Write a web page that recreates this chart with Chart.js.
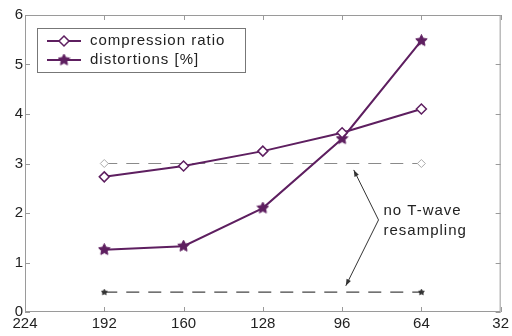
<!DOCTYPE html>
<html>
<head>
<meta charset="utf-8">
<script src="https://cdn.jsdelivr.net/npm/chart.js@4"></script>
<style>
  html, body { margin: 0; padding: 0; background: #fff; }
  #wrap { width: 512px; height: 336px; }
</style>
</head>
<body>
<div id="wrap"><canvas id="c"></canvas></div>
<script>
// -------------------------
// Data
// -------------------------
const samplingRates = [192, 160, 128, 96, 64];
const compressionRatio = [2.73, 2.95, 3.25, 3.62, 4.1];
const distortions = [1.26, 1.33, 2.1, 3.5, 5.48];
const refRates = [192, 64];
const refCompression = [3.0, 3.0];
const refDistortions = [0.4, 0.4];
const xTicks = [224, 192, 160, 128, 96, 64, 32];
const yTicks = [0, 1, 2, 3, 4, 5, 6];

const purple = '#5e1f60';
const axisGray = '#9a9a9a';
const fontFam = '"Liberation Sans", Arial, sans-serif';

// pentagram marker
function starImage(size, color) {
    const cv = document.createElement('canvas');
    cv.width = size; cv.height = size;
    const g = cv.getContext('2d');
    const c = size / 2, R = size / 2 - 0.5, r = R * 0.5;
    g.beginPath();
    for (let i = 0; i < 10; i++) {
        const a = -Math.PI / 2 + i * Math.PI / 5;
        const rad = i % 2 ? r : R;
        g.lineTo(c + rad * Math.cos(a), c + rad * Math.sin(a));
    }
    g.closePath();
    g.fillStyle = color;
    g.fill();
    g.strokeStyle = color;
    g.lineWidth = 1;
    g.stroke();
    return cv;
}
const bigStar = starImage(13, purple);
const smallStar = starImage(7, '#333');

const pts = (xs, ys) => xs.map((x, i) => ({ x: x, y: ys[i] }));

// -------------------------
// Plugins
// -------------------------
const frameTicks = {
    id: 'frameTicks',
    afterDraw(chart) {
        const { ctx, chartArea: a, scales } = chart;
        ctx.save();
        ctx.strokeStyle = axisGray;
        ctx.lineWidth = 1;
        ctx.strokeRect(a.left + 0.5, a.top + 0.5, a.right - a.left - 1, a.bottom - a.top - 1);
        ctx.beginPath();
        xTicks.forEach(v => {
            const px = Math.round(scales.x.getPixelForValue(v)) + 0.5;
            ctx.moveTo(px, a.bottom); ctx.lineTo(px, a.bottom - 5);
            ctx.moveTo(px, a.top); ctx.lineTo(px, a.top + 5);
        });
        yTicks.forEach(v => {
            const py = Math.round(scales.y.getPixelForValue(v)) + 0.5;
            ctx.moveTo(a.left, py); ctx.lineTo(a.left + 5, py);
            ctx.moveTo(a.right, py); ctx.lineTo(a.right - 5, py);
        });
        ctx.stroke();
        ctx.restore();
    }
};

const legendBox = {
    id: 'legendBox',
    afterDraw(chart) {
        const { ctx } = chart;
        const x0 = 37, y0 = 28, w = 208, h = 44;
        ctx.save();
        ctx.fillStyle = '#fff';
        ctx.fillRect(x0, y0, w, h);
        ctx.strokeStyle = '#777';
        ctx.lineWidth = 1;
        ctx.strokeRect(x0 + 0.5, y0 + 0.5, w, h);
        ctx.font = '15px ' + fontFam;
        ctx.letterSpacing = '1px';
        ctx.textBaseline = 'middle';
        [0, 1].forEach(i => {
            const ds = chart.data.datasets[i];
            const y = y0 + 13 + i * 19;
            ctx.strokeStyle = purple;
            ctx.lineWidth = 2;
            ctx.beginPath();
            ctx.moveTo(x0 + 10, y); ctx.lineTo(x0 + 44, y);
            ctx.stroke();
            if (i === 0) {
                ctx.fillStyle = '#fff';
                ctx.lineWidth = 1.5;
                ctx.beginPath();
                ctx.moveTo(x0 + 27, y - 5); ctx.lineTo(x0 + 32, y);
                ctx.lineTo(x0 + 27, y + 5); ctx.lineTo(x0 + 22, y);
                ctx.closePath();
                ctx.fill(); ctx.stroke();
            } else {
                ctx.drawImage(bigStar, x0 + 27 - 6.5, y - 6.5);
            }
            ctx.fillStyle = '#222';
            ctx.fillText(ds.label, x0 + 53, y);
        });
        ctx.restore();
    }
};

const noteArrows = {
    id: 'noteArrows',
    afterDraw(chart) {
        const { ctx, scales } = chart;
        const P = (x, y) => [scales.x.getPixelForValue(x), scales.y.getPixelForValue(y)];
        const bend = P(81.3, 1.86);
        const tips = [P(91.3, 2.87), P(94.5, 0.53)];
        ctx.save();
        ctx.strokeStyle = '#333';
        ctx.fillStyle = '#333';
        ctx.lineWidth = 1;
        tips.forEach(t => {
            ctx.beginPath();
            ctx.moveTo(bend[0], bend[1]); ctx.lineTo(t[0], t[1]);
            ctx.stroke();
            const ang = Math.atan2(t[1] - bend[1], t[0] - bend[0]);
            ctx.beginPath();
            ctx.moveTo(t[0], t[1]);
            ctx.lineTo(t[0] - 7 * Math.cos(ang - 0.35), t[1] - 7 * Math.sin(ang - 0.35));
            ctx.lineTo(t[0] - 7 * Math.cos(ang + 0.35), t[1] - 7 * Math.sin(ang + 0.35));
            ctx.closePath();
            ctx.fill();
        });
        ctx.font = '15px ' + fontFam;
        ctx.letterSpacing = '1px';
        ctx.textBaseline = 'middle';
        ctx.fillStyle = '#222';
        const t1 = P(79.3, 2.05), t2 = P(79.3, 1.64);
        ctx.fillText('no T-wave', t1[0], t1[1]);
        ctx.fillText('resampling', t2[0], t2[1]);
        ctx.restore();
    }
};

// -------------------------
// Chart
// -------------------------
new Chart(document.getElementById('c'), {
    type: 'line',
    data: {
        datasets: [
            {
                label: 'compression ratio',
                data: pts(samplingRates, compressionRatio),
                borderColor: purple,
                borderWidth: 2,
                pointStyle: 'rectRot',
                pointRadius: 5,
                pointBorderWidth: 1.5,
                pointBackgroundColor: '#fff',
                pointBorderColor: purple
            },
            {
                label: 'distortions [%]',
                data: pts(samplingRates, distortions),
                borderColor: purple,
                borderWidth: 2,
                pointStyle: bigStar
            },
            {
                label: 'ref cr',
                data: pts(refRates, refCompression),
                borderColor: '#8a8a8a',
                borderWidth: 1.2,
                borderDash: [13, 9],
                pointStyle: 'rectRot',
                pointRadius: 4,
                pointBorderWidth: 1,
                pointBackgroundColor: '#fff',
                pointBorderColor: '#aaa'
            },
            {
                label: 'ref dist',
                data: pts(refRates, refDistortions),
                borderColor: '#444',
                borderWidth: 1.2,
                borderDash: [13, 9],
                pointStyle: smallStar
            }
        ]
    },
    options: {
        responsive: true,
        maintainAspectRatio: false,
        animation: false,
        layout: { padding: { top: 15, right: 8, left: 0, bottom: 0 } },
        plugins: { legend: { display: false }, tooltip: { enabled: false } },
        scales: {
            x: {
                type: 'linear',
                reverse: true,
                min: 32,
                max: 224,
                afterBuildTicks: s => { s.ticks = xTicks.map(v => ({ value: v })); },
                afterFit: s => { s.height = 24; },
                grid: { display: false, drawTicks: false },
                border: { display: false },
                ticks: {
                    color: '#222',
                    padding: 3,
                    maxRotation: 0,
                    autoSkip: false,
                    font: { size: 15, family: fontFam }
                }
            },
            y: {
                min: 0,
                max: 6,
                afterBuildTicks: s => { s.ticks = yTicks.map(v => ({ value: v })); },
                afterFit: s => { s.width = 25; },
                grid: { display: false, drawTicks: false },
                border: { display: false },
                ticks: {
                    color: '#222',
                    padding: 2,
                    font: { size: 15, family: fontFam }
                }
            }
        }
    },
    plugins: [frameTicks, legendBox, noteArrows]
});
</script>
</body>
</html>
